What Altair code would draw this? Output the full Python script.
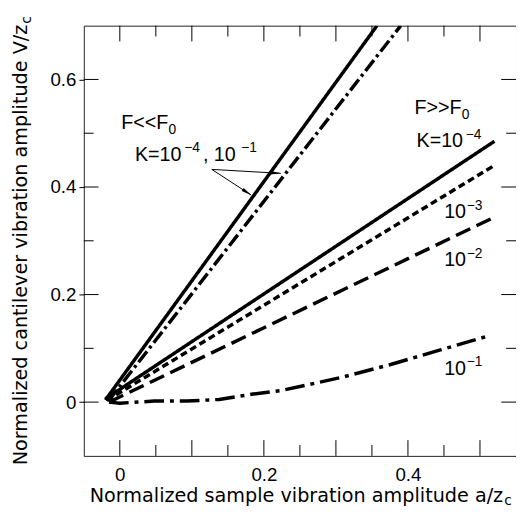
import math
import altair as alt
import pandas as pd

# ---------------- data ----------------
series_names = ["steep_solid", "steep_dashdot", "k4", "k3", "k2", "k1"]

steep_solid_x = [-0.020, 0.357]
steep_solid_y = [0.004, 0.700]

steep_dashdot_x = [-0.016, 0.390]
steep_dashdot_y = [0.002, 0.700]

k4_x = [-0.020, 0.520]
k4_y = [0.006, 0.485]

k3_x = [-0.018, 0.521]
k3_y = [0.003, 0.441]

k2_x = [-0.015, 0.517]
k2_y = [0.000, 0.342]

k1_x = [-0.015, 0.000, 0.048, 0.093, 0.138, 0.185, 0.226, 0.308, 0.376, 0.445, 0.514]
k1_y = [0.000, -0.002, 0.002, 0.002, 0.005, 0.015, 0.022, 0.046, 0.070, 0.097, 0.124]

x_labels = [0, 0.2, 0.4]
y_labels = [0, 0.2, 0.4, 0.6]
x_major_ticks = [0, 0.1, 0.2, 0.3, 0.4, 0.5]
x_minor_ticks = [0.05, 0.15, 0.25, 0.35, 0.45]
y_major_ticks = [0, 0.2, 0.4, 0.6]
y_minor_ticks = [0.1, 0.3, 0.5]

# ---------------- layout ----------------
W, H = 439, 437
OX, OY = 85, 22  # absolute position of plot origin in the page
FONT = "Liberation Sans"
TFONT = "DejaVu Sans"

xs = alt.Scale(domain=[-0.05, 0.55], nice=False, zero=False)
ys = alt.Scale(domain=[-0.1, 0.7], nice=False, zero=False)

x_axis = alt.Axis(title="", values=x_labels, format="~g", labelFont=FONT, labelFontSize=19,
                  labelColor="black", domain=False, ticks=False, grid=False, labelPadding=10)
y_axis = alt.Axis(title="", values=y_labels, format="~g", labelFont=FONT, labelFontSize=19,
                  labelColor="black", domain=False, ticks=True, tickSize=5, tickColor="black",
                  tickWidth=1, grid=False, labelPadding=3)

dashes = [[1, 0], [14, 4, 3, 4], [1, 0], [7, 4], [16, 7], [20, 6, 4, 6]]

xs_all = [steep_solid_x, steep_dashdot_x, k4_x, k3_x, k2_x, k1_x]
ys_all = [steep_solid_y, steep_dashdot_y, k4_y, k3_y, k2_y, k1_y]
rows = []
for name, xv, yv in zip(series_names, xs_all, ys_all):
    for i, (a, b) in enumerate(zip(xv, yv)):
        rows.append({"series": name, "x": a, "y": b, "i": i})
df = pd.DataFrame(rows)

lines = alt.Chart(df).mark_line(strokeWidth=3.5, color="black", clip=True, strokeCap="butt").encode(
    x=alt.X("x:Q", scale=xs, axis=x_axis),
    y=alt.Y("y:Q", scale=ys, axis=y_axis),
    strokeDash=alt.StrokeDash("series:N", scale=alt.Scale(domain=series_names, range=dashes), legend=None),
    detail="series:N",
    order="i:Q",
)

layers = [lines]


def xticks(values, length, top):
    d = pd.DataFrame({"x": values})
    if top:
        yv, y2v = 0, length
    else:
        yv, y2v = H, H - length
    return alt.Chart(d).mark_rule(color="black", strokeWidth=1).encode(
        x=alt.X("x:Q", scale=xs, axis=x_axis), y=alt.value(yv), y2=alt.value(y2v))


def yticks(values, length, right):
    d = pd.DataFrame({"y": values})
    if right:
        xv, x2v = W, W - length
    else:
        xv, x2v = 0, length
    return alt.Chart(d).mark_rule(color="black", strokeWidth=1).encode(
        y=alt.Y("y:Q", scale=ys, axis=y_axis), x=alt.value(xv), x2=alt.value(x2v))


for top in (False, True):
    layers.append(xticks(x_major_ticks, 16, top))
    layers.append(xticks(x_minor_ticks, 11, top))
for right in (False, True):
    layers.append(yticks(y_major_ticks, 15, right))
    layers.append(yticks(y_minor_ticks, 10, right))

one = pd.DataFrame({"a": [0]})


def txt(text, x_abs, y_abs, size=20, align="left", angle=0, font=FONT):
    return alt.Chart(one).mark_text(text=text, font=font, fontSize=size, align=align, baseline="alphabetic",
                                    angle=angle, color="black").encode(
        x=alt.value(x_abs - OX), y=alt.value(y_abs - OY))


# axis titles (with subscript c)
layers.append(txt("Normalized sample vibration amplitude a/z", 511, 506, 19.5, "right", 0, TFONT))
layers.append(txt("c", 512, 509, 14, "left", 0, TFONT))
layers.append(txt("Normalized cantilever vibration amplitude V/z", 27, 21, 19.5, "right", 270, TFONT))
layers.append(txt("c", 31, 20, 14, "left", 270, TFONT))

# left annotation: F<<F0, K=10^-4, 10^-1
layers.append(txt("F<<F", 123, 127))
layers.append(txt("0", 171, 132, 14))
layers.append(txt("K=10", 137, 159))
layers.append(txt("\u22124", 187, 150, 14))
layers.append(txt(", 10", 206, 159))
layers.append(txt("\u22121", 245, 150, 14))

# right annotation
layers.append(txt("F>>F", 421, 112))
layers.append(txt("0", 469, 117, 14))
layers.append(txt("K=10", 423, 145))
layers.append(txt("\u22124", 473, 137, 14))
layers.append(txt("10", 451, 217))
layers.append(txt("\u22123", 474, 209, 14))
layers.append(txt("10", 451, 266))
layers.append(txt("\u22122", 474, 258, 14))
layers.append(txt("10", 451, 377))
layers.append(txt("\u22121", 474, 368, 14))

# arrows
origin = (215, 168)
tips = [(255, 194), (285, 172)]
for tx, ty in tips:
    layers.append(alt.Chart(one).mark_rule(color="black", strokeWidth=1).encode(
        x=alt.value(origin[0] - OX), y=alt.value(origin[1] - OY),
        x2=alt.value(tx - OX), y2=alt.value(ty - OY)))
    dx, dy = tx - origin[0], ty - origin[1]
    L = math.hypot(dx, dy)
    ang = math.degrees(math.atan2(dx, -dy)) % 360
    cx, cy = tx - 5 * dx / L, ty - 5 * dy / L
    layers.append(alt.Chart(one).mark_point(shape="M0,-1L0.35,1L-0.35,1Z", filled=True, color="black",
                                            opacity=1, size=110, angle=ang, strokeWidth=0).encode(
        x=alt.value(cx - OX), y=alt.value(cy - OY)))

chart = alt.layer(*layers).properties(
    width=W, height=H,
    background="white",
    autosize=alt.AutoSizeParams(type="none"),
    padding={"left": OX - 8, "top": OY - 8, "right": 0, "bottom": 50},
).configure_view(stroke="#222", strokeWidth=1)

chart.save("out.html", embed_options={"renderer": "svg", "actions": False})
